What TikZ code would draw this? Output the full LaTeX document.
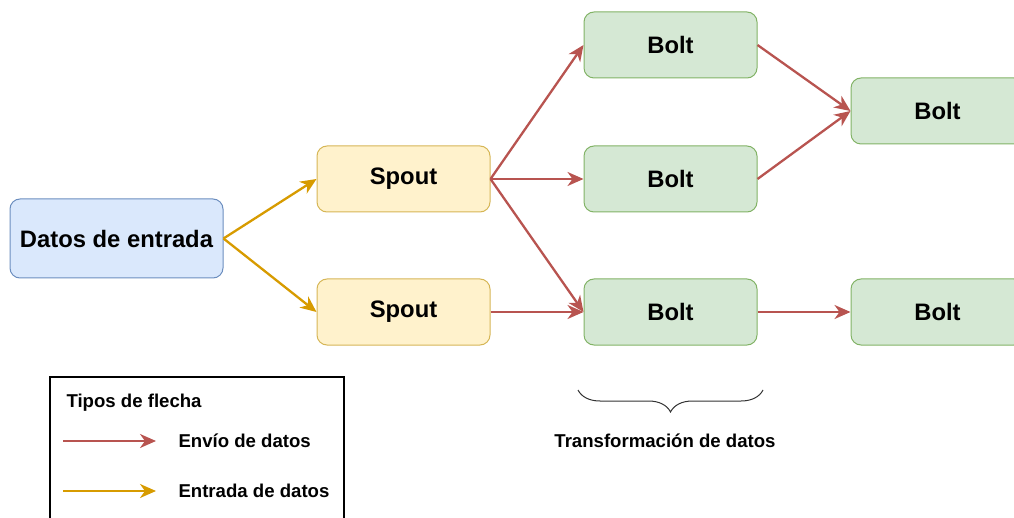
\documentclass[tikz,border=0pt]{standalone}
\usepackage{fontspec}
\setmainfont{Liberation Sans}
\usepackage{tikz}
\usetikzlibrary{arrows.meta}
\usetikzlibrary{decorations.pathreplacing}

\definecolor{inFill}{HTML}{DAE8FC}
\definecolor{inLine}{HTML}{6C8EBF}
\definecolor{spFill}{HTML}{FFF2CC}
\definecolor{spLine}{HTML}{D6B656}
\definecolor{boFill}{HTML}{D5E8D4}
\definecolor{boLine}{HTML}{82B366}
\definecolor{sendCol}{HTML}{B85450}
\definecolor{entCol}{HTML}{D79B00}

\tikzset{
    box/.style={draw, rounded corners=10pt, line width=1pt, inner sep=0pt,
        minimum width=173pt, minimum height=66pt,
        font=\fontsize{23.8}{28}\selectfont\bfseries},
    spoutbox/.style={box, fill=spFill, draw=spLine},
    boltbox/.style={box, fill=boFill, draw=boLine},
    small/.style={font=\fontsize{18.6}{22}\selectfont\bfseries},
    send/.style={draw=sendCol, line width=2.3pt, -{Stealth[length=16pt,width=14pt,inset=5pt]}},
    feed/.style={draw=entCol, line width=2.3pt, -{Stealth[length=16pt,width=14pt,inset=5pt]}},
}

\begin{document}
\begin{tikzpicture}[x=1pt,y=-1pt]
            \useasboundingbox (0,0) rectangle (1014,518);
            \node[box, fill=inFill, draw=inLine, minimum width=213pt, minimum height=79pt] (datos) at (116.5,238.5) {Datos de entrada};
            \node[spoutbox] (spA) at (403.5,179) {Spout};
            \node[spoutbox] (spB) at (403.5,312) {Spout};
            \node[boltbox] (boA) at (670.5,45) {Bolt};
            \node[boltbox] (boB) at (670.5,179) {Bolt};
            \node[boltbox] (boC) at (670.5,312) {Bolt};
            \node[boltbox] (boD) at (937.5,111) {Bolt};
            \node[boltbox] (boE) at (937.5,312) {Bolt};
            \draw[feed] (datos.east) -- (spA.west);
            \draw[feed] (datos.east) -- (spB.west);
            \foreach \b in {boA, boB, boC}{
                \draw[send] (spA.east) -- (\b.west);
            }
            \draw[send] (spB.east) -- (boC.west);
            \draw[send] (boA.east) -- (boD.west);
            \draw[send] (boB.east) -- (boD.west);
            \draw[send] (boC.east) -- (boE.west);
            % brace under the middle column
            \coordinate (brL) at (578,390);
            \coordinate (brR) at (763,390);
            \draw[line width=1pt, draw=black!80, decorate, decoration={brace, mirror, amplitude=22pt}] (brL) -- (brR);
            \node[small] (trans) at (665,441) {Transformación de datos};
            % legend
            \draw[line width=1.2pt] (50,530) -- (50,377) -- (344,377) -- (344,530);
            \node[small, anchor=west] (tipos) at (63,403) {Tipos de flecha};
            \node[small, anchor=west] (envio) at (175,441) {Envío de datos};
            \node[small, anchor=west] (entrada) at (175,491) {Entrada de datos};
            \coordinate (envS) at (63,441);
            \coordinate (envE) at (156,441);
            \coordinate (entS) at (63,491);
            \coordinate (entE) at (156,491);
            \draw[send] (envS) -- (envE);
            \draw[feed] (entS) -- (entE);
        \end{tikzpicture}
\end{document}
